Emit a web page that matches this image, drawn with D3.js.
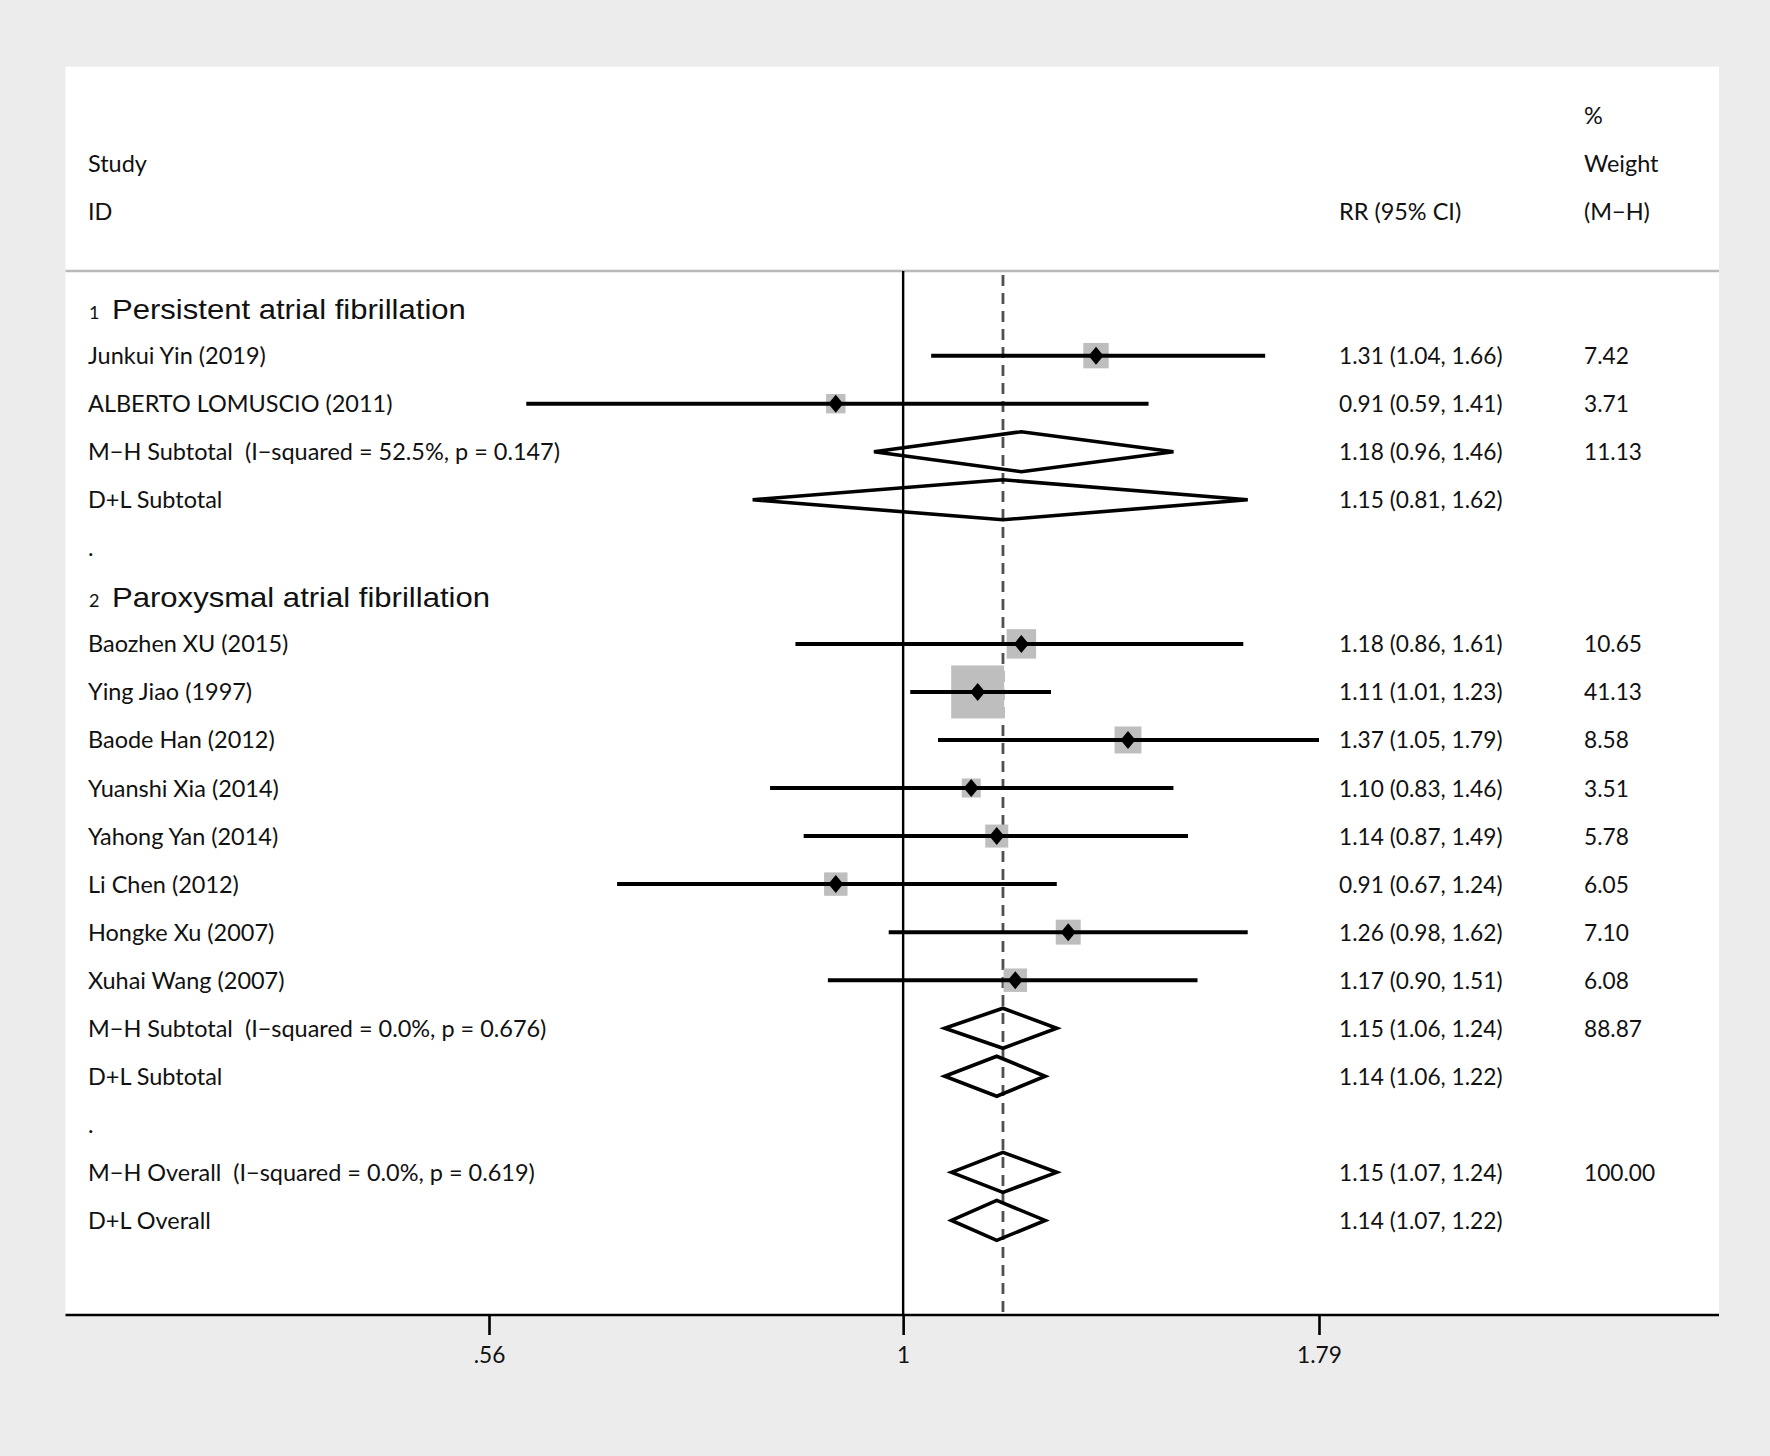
<!DOCTYPE html>
<html>
<head>
<meta charset="utf-8">
<script src="https://cdn.jsdelivr.net/npm/d3@7"></script>
<style>
  html, body { margin: 0; padding: 0; background: #ececec; }
  svg { display: block; }
  text { white-space: pre; }
</style>
</head>
<body>
<svg id="chart" width="1770" height="1456"></svg>
<script>
// ---------------- DATA ----------------
const groupNums = ["1", "2"];
const groupTitles = ["Persistent atrial fibrillation", "Paroxysmal atrial fibrillation"];

const studyNames = [
  "Junkui Yin (2019)", "ALBERTO LOMUSCIO (2011)",
  "Baozhen XU (2015)", "Ying Jiao (1997)", "Baode Han (2012)", "Yuanshi Xia (2014)",
  "Yahong Yan (2014)", "Li Chen (2012)", "Hongke Xu (2007)", "Xuhai Wang (2007)"
];
const studyGroup = [1, 1, 2, 2, 2, 2, 2, 2, 2, 2];
const studyRR   = [1.31, 0.91, 1.18, 1.11, 1.37, 1.10, 1.14, 0.91, 1.26, 1.17];
const studyLo   = [1.04, 0.59, 0.86, 1.01, 1.05, 0.83, 0.87, 0.67, 0.98, 0.90];
const studyHi   = [1.66, 1.41, 1.61, 1.23, 1.79, 1.46, 1.49, 1.24, 1.62, 1.51];
const studyWeight = [7.42, 3.71, 10.65, 41.13, 8.58, 3.51, 5.78, 6.05, 7.10, 6.08];

// summaries: group 1, group 1, group 2, group 2, overall (0), overall (0)
const summaryLabels = [
  "M\u2212H Subtotal  (I\u2212squared = 52.5%, p = 0.147)", "D+L Subtotal",
  "M\u2212H Subtotal  (I\u2212squared = 0.0%, p = 0.676)", "D+L Subtotal",
  "M\u2212H Overall  (I\u2212squared = 0.0%, p = 0.619)", "D+L Overall"
];
const summaryGroup = [1, 1, 2, 2, 0, 0];
const summaryRR = [1.18, 1.15, 1.15, 1.14, 1.15, 1.14];
const summaryLo = [0.96, 0.81, 1.06, 1.06, 1.07, 1.07];
const summaryHi = [1.46, 1.62, 1.24, 1.22, 1.24, 1.22];
const summaryWeight = [11.13, null, 88.87, null, 100.00, null];

const tickValues = [0.56, 1, 1.79];
const tickLabels = [".56", "1", "1.79"];

const headerLeft = ["Study", "ID"];
const headerCI = "RR (95% CI)";
const headerWeight = ["%", "Weight", "(M\u2212H)"];

// ---------------- BUILD ROWS ----------------
const rows = [];
[1, 2].forEach((g, gi) => {
  rows.push({type: "group", num: groupNums[gi], label: groupTitles[gi]});
  studyNames.forEach((n, i) => {
    if (studyGroup[i] === g) rows.push({type: "study", label: n, rr: studyRR[i], lo: studyLo[i], hi: studyHi[i], w: studyWeight[i]});
  });
  summaryLabels.forEach((n, i) => {
    if (summaryGroup[i] === g) rows.push({type: "summary", label: n, rr: summaryRR[i], lo: summaryLo[i], hi: summaryHi[i], w: summaryWeight[i]});
  });
  rows.push({type: "spacer", label: "."});
});
summaryLabels.forEach((n, i) => {
  if (summaryGroup[i] === 0) rows.push({type: "summary", label: n, rr: summaryRR[i], lo: summaryLo[i], hi: summaryHi[i], w: summaryWeight[i]});
});
rows.forEach((r, i) => r.id = i);

// ---------------- LAYOUT ----------------
const panel = {x0: 65.5, y0: 66.6, x1: 1719, y1: 1315};
const sepY = 271;
const labelX = 88, ciX = 1339, wX = 1584;
const bodyFont = "Lato, 'Open Sans', sans-serif";
const headFont = "'Liberation Sans', Arial, sans-serif";
const bodySize = 24;

const svg = d3.select("#chart");

const x = d3.scaleLog().domain([tickValues[0], tickValues[2]]).range([489, 1319]);
const y = d3.scalePoint().domain(rows.map(r => r.id)).range([307.6, 1220.4]);
const boxSize = d3.scaleSqrt().domain([0, d3.max(studyWeight)]).range([0, 48]);
const fmt = d3.format(".2f");

// panel background
svg.append("rect").attr("x", panel.x0).attr("y", panel.y0)
  .attr("width", panel.x1 - panel.x0).attr("height", panel.y1 - panel.y0)
  .attr("fill", "#ffffff");

// separator
svg.append("line").attr("x1", panel.x0).attr("x2", panel.x1).attr("y1", sepY).attr("y2", sepY)
  .attr("stroke", "#b9b9b9").attr("stroke-width", 2.5);

// reference lines
svg.append("line").attr("x1", x(1)).attr("x2", x(1)).attr("y1", sepY).attr("y2", panel.y1)
  .attr("stroke", "#000").attr("stroke-width", 2.4);
const overallRR = summaryRR[4];
svg.append("line").attr("x1", x(overallRR)).attr("x2", x(overallRR)).attr("y1", sepY + 4).attr("y2", panel.y1)
  .attr("stroke", "#505050").attr("stroke-width", 2.8).attr("stroke-dasharray", "11,7");

const bodyTexts = [], numTexts = [];
function addText(list, tx, ty, str) {
  const t = svg.append("text")
    .attr("transform", `translate(${tx},${ty})`)
    .attr("font-family", bodyFont).attr("font-size", bodySize)
    .attr("fill", "#111")
    .text(str);
  t.datum({tx, ty});
  list.push(t);
  return t;
}

// headers
const hY = [115, 163.7, 211];
addText(bodyTexts, labelX, hY[1] + 8.5, headerLeft[0]);
addText(bodyTexts, labelX, hY[2] + 8.5, headerLeft[1]);
addText(bodyTexts, ciX, hY[2] + 8.5, headerCI);
headerWeight.forEach((s, i) => addText(bodyTexts, wX, hY[i] + 8.5, s));

// rows
const headTexts = [];
rows.forEach(r => {
  const cy = y(r.id);
  if (r.type === "group") {
    svg.append("text").attr("x", 89).attr("y", cy + 11.5)
      .attr("font-family", bodyFont).attr("font-size", 18).attr("fill", "#111").text(r.num);
    const t = svg.append("text").attr("transform", `translate(112,${cy + 11.5})`)
      .attr("font-family", headFont).attr("font-size", 28).attr("fill", "#111").text(r.label);
    t.datum({tx: 112, ty: cy + 11.5});
    headTexts.push(t);
    return;
  }
  addText(bodyTexts, labelX, cy + 8.5, r.label);
  if (r.type === "spacer") return;
  addText(numTexts, ciX, cy + 8.5, `${fmt(r.rr)} (${fmt(r.lo)}, ${fmt(r.hi)})`);
  if (r.w != null) addText(numTexts, wX, cy + 8.5, fmt(r.w));

  if (r.type === "study") {
    const s = 5 + boxSize(r.w);
    svg.append("rect").attr("x", x(r.rr) - s / 2).attr("y", cy - s / 2)
      .attr("width", s).attr("height", s).attr("fill", "#bebebe");
    svg.append("line").attr("x1", x(r.lo)).attr("x2", x(r.hi)).attr("y1", cy).attr("y2", cy)
      .attr("stroke", "#000").attr("stroke-width", 4);
    const cx = x(r.rr), hw = 7.5, hh = 9;
    svg.append("path")
      .attr("d", `M${cx - hw},${cy}L${cx},${cy - hh}L${cx + hw},${cy}L${cx},${cy + hh}Z`)
      .attr("fill", "#000");
  } else {
    const hh = 20;
    svg.append("path")
      .attr("d", `M${x(r.lo)},${cy}L${x(r.rr)},${cy - hh}L${x(r.hi)},${cy}L${x(r.rr)},${cy + hh}Z`)
      .attr("fill", "none").attr("stroke", "#000").attr("stroke-width", 3.6).attr("stroke-linejoin", "miter");
  }
});

// axis
const axis = d3.axisBottom(x).tickValues(tickValues)
  .tickFormat((d, i) => tickLabels[i]).tickSize(20).tickSizeOuter(0);
const gAxis = svg.append("g").attr("transform", `translate(0,${panel.y1})`).call(axis);
gAxis.select(".domain").remove();
gAxis.selectAll(".tick line").attr("stroke", "#000").attr("stroke-width", 2.6);
gAxis.selectAll(".tick text").attr("font-family", bodyFont).attr("font-size", bodySize)
  .attr("fill", "#111").attr("dy", null).attr("y", 48);
svg.append("line").attr("x1", panel.x0).attr("x2", panel.x1).attr("y1", panel.y1).attr("y2", panel.y1)
  .attr("stroke", "#000").attr("stroke-width", 2.6);

// horizontal condensing to match reference typeface widths (calibrated on several labels)
function fitFactor(list, calib) {
  let sumT = 0, sumM = 0;
  calib.forEach(([s, w]) => {
    const t = list.find(b => b.text() === s);
    if (t) { sumT += w; sumM += t.node().getComputedTextLength(); }
  });
  return sumT / sumM;
}
function applyScale(list, k) {
  list.forEach(t => {
    const d = t.datum();
    t.attr("transform", `translate(${d.tx},${d.ty}) scale(${k},1)`);
  });
}
const kBody = fitFactor(bodyTexts, [["Junkui Yin (2019)", 180.6], ["ALBERTO LOMUSCIO (2011)", 293.5],
  ["M\u2212H Subtotal  (I\u2212squared = 52.5%, p = 0.147)", 480.9]]);
applyScale(bodyTexts, kBody);
const kNum = fitFactor(numTexts, [["1.31 (1.04, 1.66)", 163.7], ["100.00", 71]]);
applyScale(numTexts, kNum);
gAxis.selectAll(".tick text").attr("transform", `scale(${kNum},1)`);
const kHead = 354 / headTexts[0].node().getComputedTextLength();
applyScale(headTexts, kHead);
</script>
</body>
</html>
